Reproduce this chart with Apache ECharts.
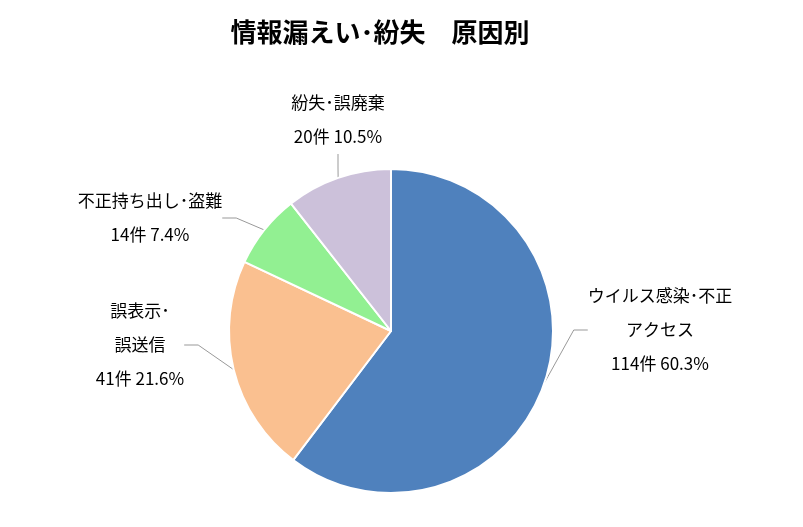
<!DOCTYPE html>
<html><head><meta charset="utf-8">
<script src="https://cdn.jsdelivr.net/npm/echarts@6/dist/echarts.min.js"></script>
<style>body{margin:0;background:#fff}</style>
</head><body>
<div id="main" style="width:803px;height:527px"></div>
<script>
var categories = ['ウイルス感染･不正\nアクセス', '誤表示･\n誤送信', '不正持ち出し･盗難', '紛失･誤廃棄'];
var counts = [114, 41, 14, 20];
var percents = ['60.3%', '21.6%', '7.4%', '10.5%'];
var colors = ['#4f81bd', '#fac090', '#92f092', '#ccc1da'];
// label anchor points (centre of text block)
var labelPos = [[660, 330], [140, 345], [150, 218], [338, 120]];

var myChart = echarts.init(document.getElementById('main'));
myChart.setOption({
  title: {
    text: '情報漏えい･紛失　原因別',
    left: 375, top: 14, textAlign: 'center',
    textStyle: { fontFamily: 'Noto Sans CJK JP', fontSize: 26, fontWeight: 'bold', color: '#000' }
  },
  series: [{
    type: 'pie',
    center: [391, 331],
    radius: 162,
    startAngle: 90,
    clockwise: true,
    data: categories.map(function (c, i) {
      return { name: c, value: counts[i], itemStyle: { color: colors[i] } };
    }),
    itemStyle: { borderColor: '#fff', borderWidth: 2 },
    label: {
      formatter: function (p) { return p.name + '\n' + counts[p.dataIndex] + '件 ' + percents[p.dataIndex]; },
      fontFamily: 'Noto Sans CJK JP', fontSize: 17, color: '#000', lineHeight: 34
    },
    labelLayout: function (p) {
      var pos = labelPos[p.dataIndex];
      return { x: pos[0], y: pos[1], align: 'center', verticalAlign: 'middle' };
    },
    labelLine: { length: 18, length2: 14, lineStyle: { color: '#999' } }
  }]
});
</script>
</body></html>
